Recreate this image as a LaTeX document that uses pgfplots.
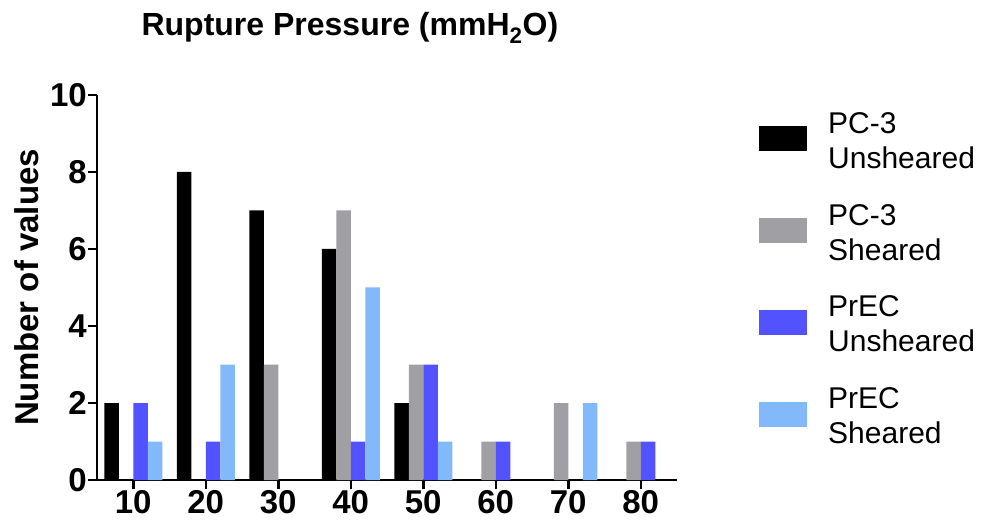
\documentclass[border=0pt]{standalone}
\usepackage{fontspec}
\setmainfont{Liberation Sans}
\usepackage{pgfplots}
\pgfplotsset{compat=1.18}
\definecolor{c1}{RGB}{0,0,0}
\definecolor{c2}{RGB}{160,160,164}
\definecolor{c3}{RGB}{82,82,255}
\definecolor{c4}{RGB}{130,185,250}
\pgfplotsset{
  mybar/.style={ybar, draw=none, bar width=2,
    legend image code/.code={\fill[##1] (0pt,-10pt) rectangle (48pt,15pt);}},
}
\begin{document}
\begin{tikzpicture}[x=1pt,y=1pt]
\path[use as bounding box] (0,0) rectangle (982,525);
\begin{axis}[
  at={(97pt,45pt)}, anchor=south west, scale only axis,
  width=580pt, height=385pt,
  xmin=5, xmax=85, ymin=0, ymax=10,
  axis x line*=bottom, axis y line*=left,
  axis line style={line width=2.5pt, -},
  xtick={10,20,...,80}, ytick={0,2,...,10}, minor tick num=0,
  tick align=outside, major tick length=9pt,
  tick style={line width=2.5pt, black},
  /pgf/number format/assume math mode=true,
  ticklabel style={font=\bfseries\fontsize{33}{33}\selectfont},
  yticklabel style={inner sep=1pt},
  xticklabel style={inner sep=1pt},
  ylabel={Number of values},
  ylabel style={font=\bfseries\fontsize{33}{33}\selectfont,
    at={(axis description cs:-0.1017,0.5)}, anchor=base},
  title={Rupture Pressure (mmH\textsubscript{2}O)},
  title style={font=\bfseries\fontsize{32}{32}\selectfont,
    at={(axis description cs:0.436,1)}, anchor=base, yshift=53pt},
  legend cell align=left,
  legend style={draw=none, fill=none, at={(axis description cs:1.1414,0.956)},
    anchor=north west, inner sep=0pt, row sep=34.5pt, column sep=21pt,
    font=\fontsize{30}{35}\selectfont,
    nodes={inner sep=0pt, align=left}},
]
\addplot[mybar, fill=c1, bar shift=-3] coordinates {(10,2) (20,8) (30,7) (40,6) (50,2)};
\addlegendentry{PC-3\\Unsheared}
\addplot[mybar, fill=c2, bar shift=-1] coordinates {(30,3) (40,7) (50,3) (60,1) (70,2) (80,1)};
\addlegendentry{PC-3\\Sheared}
\addplot[mybar, fill=c3, bar shift=1] coordinates {(10,2) (20,1) (40,1) (50,3) (60,1) (80,1)};
\addlegendentry{PrEC\\Unsheared}
\addplot[mybar, fill=c4, bar shift=3] coordinates {(10,1) (20,3) (40,5) (50,1) (70,2)};
\addlegendentry{PrEC\\Sheared}
\end{axis}
\end{tikzpicture}
\end{document}
